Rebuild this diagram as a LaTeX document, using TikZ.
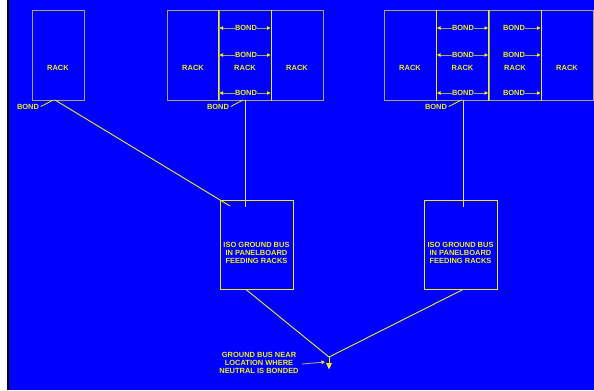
\documentclass[tikz,border=0pt]{standalone}
\usepackage{fontspec}
\setmainfont{Liberation Sans}
\usetikzlibrary{arrows.meta}
\definecolor{bg}{RGB}{0,0,255}
\definecolor{yel}{RGB}{238,238,30}
\definecolor{rim}{RGB}{165,165,120}
\definecolor{pale}{RGB}{225,225,160}
\begin{document}
\begin{tikzpicture}[x=1bp,y=-1bp,
  lbl/.style={text=yel,font=\fontsize{7.5}{8}\selectfont\bfseries,inner sep=0pt},
  rack/.style={draw=rim,line width=1bp,inner sep=0pt,minimum width=52bp,minimum height=90bp,
    label={[lbl,yshift=-13bp]center:RACK}},
  bus/.style={draw=yel,line width=1bp,inner sep=0pt,minimum width=73bp,minimum height=89bp,
    label={[lbl,align=center,yshift=-8.5bp]center:ISO GROUND BUS\\IN PANELBOARD\\FEEDING RACKS}},
  divider/.style={draw=yel,line width=1.8bp},
  wire/.style={draw=yel,line width=0.9bp},
  vwire/.style={draw=pale,line width=0.9bp},
  lead/.style={draw=yel,line width=0.8bp},
  bondarr/.style={draw=rim,line width=0.9bp,-{Triangle[length=3.5bp,width=3.5bp,fill=yel,color=yel]}}
]
\useasboundingbox (0,0) rectangle (594,390);
\fill[white] (0,0) rectangle (7,390);
\fill[black] (7,0) rectangle (9,390);
\fill[bg] (9,0) rectangle (594,390);

% single rack
\node[rack] (r1) at (58,55) {};
% group 2
\node[rack] (r21) at (193,55) {};
\node[rack] (r22) at (245,55) {};
\node[rack] (r23) at (297,55) {};
\draw[divider] (r22.north west) -- (r22.south west);
\draw[divider] (r22.north east) -- (r22.south east);
% group 3
\node[rack] (r31) at (410,55) {};
\node[rack] (r32) at (462.5,55) {};
\node[rack] (r33) at (515,55) {};
\node[rack] (r34) at (567,55) {};
\draw[divider] (r31.north east) -- (r31.south east);
\draw[divider] (r33.north west) -- (r33.south west);
\draw[divider] (r33.north east) -- (r33.south east);

% bonds in group 2
\foreach \i/\y in {a/28,b/55,c/93}{
  \node[lbl] (b2\i) at (246,\y) {BOND};
  \draw[bondarr] (b2\i.west) -- ([xshift=1bp]r22.west |- b2\i);
  \draw[bondarr] (b2\i.east) -- ([xshift=-1bp]r22.east |- b2\i);
}
% bonds in group 3
\foreach \i/\y in {a/28,b/55,c/93}{
  \node[lbl] (b3\i) at (463,\y) {BOND};
  \draw[bondarr] (b3\i.west) -- ([xshift=1bp]r32.west |- b3\i);
  \draw[bondarr] (b3\i.east) -- ([xshift=-1bp]r32.east |- b3\i);
  \node[lbl] (b4\i) at (514,\y) {BOND};
  \draw[bondarr] (b4\i.east) -- ([xshift=-1bp]r33.east |- b4\i);
}

% bus boxes
\node[bus] (bus1) at (256.5,244.5) {};
\node[bus] (bus2) at (460.5,244.5) {};

% bond points
\coordinate (p1) at (55,100);
\coordinate (p2) at (245,100);
\coordinate (p3) at (463,100);
\coordinate (e1) at (230,206);
\coordinate (e2) at (245,207);
\coordinate (e3) at (463,207);

\node[lbl] (l1) at (28,106.5) {BOND};
\node[lbl] (l2) at (218,106.5) {BOND};
\node[lbl] (l3) at (436,106.5) {BOND};
\draw[lead] ([xshift=1.5bp]l1.east) -- ([xshift=-1.5bp]p1);
\draw[lead] ([xshift=1.5bp]l2.east) -- ([xshift=-2bp]p2);
\draw[lead] ([xshift=1.5bp]l3.east) -- ([xshift=-1.5bp]p3);

\draw[wire] (p1) -- (e1);
\draw[vwire] (p2) -- (e2);
\draw[vwire] (p3) -- (e3);

% ground
\coordinate (g) at (329,357);
\coordinate (gs) at (329,363);
\coordinate (gt) at (325,362);
\draw[wire] (bus1.south -| 246,0) -- (g);
\draw[wire] (bus2.south -| 463,0) -- (g);
\draw[wire] (g) -- (gs);
\fill[yel] (326,363) -- (332,363) -- (329,369.5) -- cycle;

\node[lbl,align=center] (gl) at (259,363) {GROUND BUS NEAR\\LOCATION WHERE\\NEUTRAL IS BONDED};
\draw[bondarr] ([xshift=3bp,yshift=-1bp]gl.east) -- (gt);
\end{tikzpicture}
\end{document}
